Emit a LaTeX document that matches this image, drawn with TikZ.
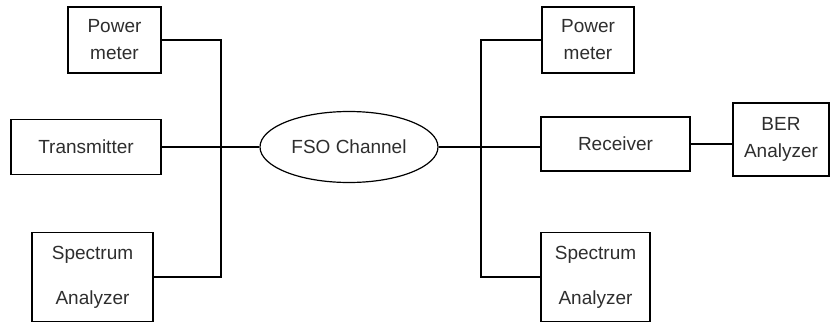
\documentclass[tikz,border=0pt]{standalone}
\usepackage{fontspec}
\setmainfont{Liberation Sans}
\usetikzlibrary{shapes.geometric}
\begin{document}
\begin{tikzpicture}[x=1pt,y=-1pt,
  box/.style={draw, line width=1.2pt, rectangle, inner sep=0pt, align=center,
    font=\fontsize{19}{27}\selectfont, text=black!82},
  conn/.style={line width=1.2pt}]
\useasboundingbox (0,0) rectangle (830,324);
\node[box, minimum width=93, minimum height=66] (pmL) at (114.5,40) {Power\\meter};
\node[box, minimum width=150, minimum height=55] (tx) at (86,147) {Transmitter};
\node[box, minimum width=121, minimum height=89] (saL) at (92.5,277) {Spectrum\\[18pt]Analyzer};
\node[box, ellipse, minimum width=178, minimum height=71] (fso) at (349,147) {FSO Channel};
\node[box, minimum width=92, minimum height=66] (pmR) at (588,40) {Power\\meter};
\node[box, minimum width=149, minimum height=54] (rx) at (615.5,144) {Receiver};
\node[box, minimum width=96, minimum height=73] (ber) at (781,139.5) {BER\\Analyzer};
\node[box, minimum width=109, minimum height=89] (saR) at (595.5,277) {Spectrum\\[18pt]Analyzer};
\coordinate (busL) at (221,147);
\coordinate (busR) at (481,147);
\draw[conn] (pmL.east) -| (busL) |- (saL.east);
\draw[conn] (tx.east) -- (fso.west);
\draw[conn] (pmR.west) -| (busR) |- (saR.west);
\draw[conn] (fso.east) -- (fso.east -| rx.west);
\draw[conn] (rx.east) -- (rx.east -| ber.west);
\end{tikzpicture}
\end{document}
